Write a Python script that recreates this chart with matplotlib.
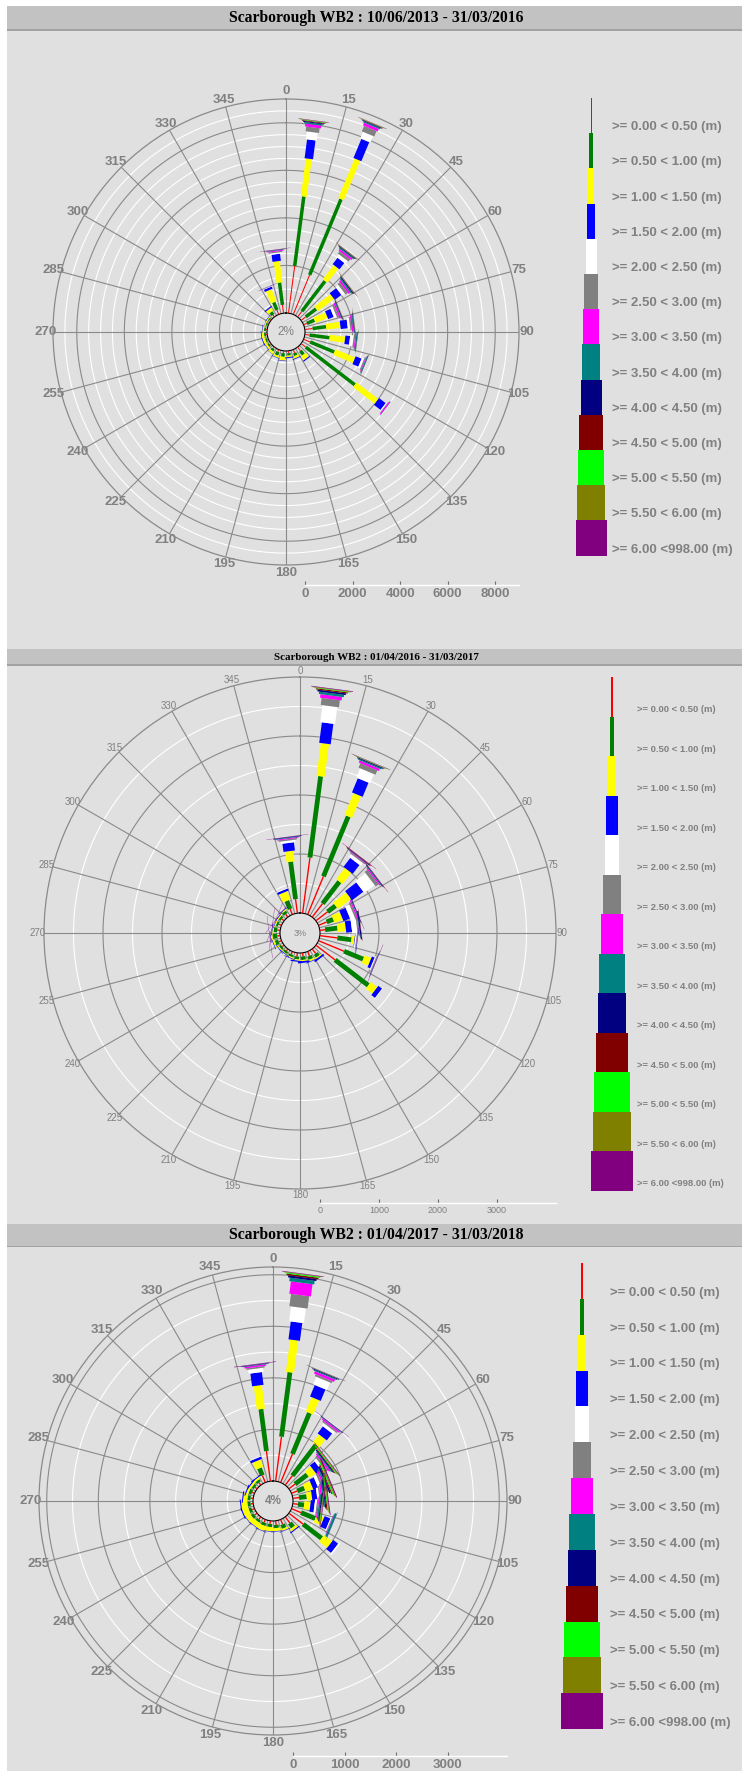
import numpy as np
import matplotlib
matplotlib.use("Agg")
import matplotlib.pyplot as plt
from matplotlib.patches import Rectangle

# ---------------- data ----------------
directions = [7.5, 22.5, 37.5, 52.5, 67.5, 82.5, 97.5, 112.5, 127.5, 142.5, 157.5, 172.5,
              187.5, 202.5, 217.5, 232.5, 247.5, 262.5, 277.5, 292.5, 307.5, 322.5, 337.5, 352.5]

class_labels = [">= 0.00 < 0.50 (m)", ">= 0.50 < 1.00 (m)", ">= 1.00 < 1.50 (m)",
                ">= 1.50 < 2.00 (m)", ">= 2.00 < 2.50 (m)", ">= 2.50 < 3.00 (m)",
                ">= 3.00 < 3.50 (m)", ">= 3.50 < 4.00 (m)", ">= 4.00 < 4.50 (m)",
                ">= 4.50 < 5.00 (m)", ">= 5.00 < 5.50 (m)", ">= 5.50 < 6.00 (m)",
                ">= 6.00 <998.00 (m)"]
class_colors = ["#ff0000", "#008000", "#ffff00", "#0000ff", "#ffffff", "#808080", "#ff00ff",
                "#008080", "#000080", "#800000", "#00ff00", "#808000", "#800080"]
angle_labels = ["0", "15", "30", "45", "60", "75", "90", "105", "120", "135", "150", "165",
                "180", "195", "210", "225", "240", "255", "270", "285", "300", "315", "330", "345"]

titles = ["Scarborough WB2 : 10/06/2013 - 31/03/2016",
          "Scarborough WB2 : 01/04/2016 - 31/03/2017",
          "Scarborough WB2 : 01/04/2017 - 31/03/2018"]
calm_labels = ["2%", "3%", "4%"]
axis_ticks_1 = [0, 2000, 4000, 6000, 8000]
axis_ticks_2 = [0, 1000, 2000, 3000]
axis_ticks_3 = [0, 1000, 2000, 3000]

# counts per direction (rows follow `directions`), columns follow the height classes
p1_counts = [
    [2000, 2950, 1600, 800, 330, 200, 120, 60, 40, 30, 20, 15, 15],
    [1800, 3450, 1800, 870, 300, 250, 120, 50, 30, 20, 10, 10, 10],
    [300, 1600, 760, 340, 150, 120, 80, 50, 30, 20, 10, 10, 10],
    [250, 550, 850, 350, 150, 120, 80, 60, 40, 20, 10, 10, 10],
    [150, 350, 550, 250, 120, 80, 70, 30, 25, 10, 5, 5, 5],
    [330, 570, 600, 300, 100, 60, 60, 40, 20, 10, 5, 5, 5],
    [200, 850, 650, 200, 150, 60, 40, 50, 10, 5, 5],
    [300, 1100, 900, 270, 100, 40, 30, 40, 10, 5],
    [250, 2600, 1150, 350, 50, 30, 50, 10],
    [200, 200, 200, 50, 10],
    [150, 120, 100, 30],
    [100, 100, 60, 40],
    [100, 150, 150, 20],
    [100, 150, 80, 20],
    [80, 100, 100, 10],
    [60, 80, 80, 20],
    [50, 80, 100, 30],
    [50, 80, 100, 30, 10],
    [50, 80, 60, 20],
    [50, 60, 40, 10],
    [50, 60, 40, 20],
    [100, 150, 150, 50],
    [200, 350, 550, 100, 20, 10, 10, 5, 5],
    [350, 950, 900, 300, 60, 50, 40, 20, 10, 5, 0, 0, 10],
]
p2_counts = [
    [950, 1390, 560, 350, 290, 120, 60, 40, 30, 20, 10, 10, 10],
    [700, 1100, 400, 260, 170, 80, 40, 20, 15, 5, 5, 5, 5],
    [290, 470, 240, 190, 60, 20, 10, 5, 10, 10, 0, 0, 5],
    [250, 170, 280, 240, 220, 60, 20, 10, 10, 5, 0, 0, 5],
    [150, 120, 150, 120, 80, 30, 20, 10, 10, 0, 0, 0, 5],
    [90, 210, 140, 100, 90, 20, 10, 10, 20, 5],
    [300, 240, 50, 10, 20, 10, 5, 5, 5],
    [470, 350, 120, 50, 20, 10, 5, 5, 5, 0, 0, 0, 5],
    [410, 710, 140, 80, 10],
    [100, 60, 20, 30],
    [80, 60, 30, 10],
    [60, 60, 20, 30],
    [60, 50, 20, 20],
    [50, 40, 20, 10],
    [40, 40, 10, 10],
    [40, 40, 20, 10],
    [50, 60, 30, 10],
    [50, 80, 30, 10, 5, 0, 0, 0, 0, 0, 0, 0, 5],
    [50, 60, 20, 10, 0, 0, 0, 0, 0, 0, 0, 0, 5],
    [50, 40, 20, 10, 5, 0, 0, 0, 0, 0, 0, 0, 5],
    [50, 40, 20, 10, 0, 0, 0, 0, 0, 0, 0, 0, 5],
    [60, 50, 20, 10],
    [100, 150, 150, 40, 10],
    [240, 640, 180, 140, 40, 25, 15, 10, 10, 0, 0, 0, 5],
]
p3_counts = [
    [870, 1260, 630, 350, 290, 240, 240, 70, 40, 30, 20, 10, 10],
    [600, 860, 300, 240, 160, 40, 50, 20, 15, 5, 5, 0, 5],
    [230, 750, 200, 170, 60, 30, 30, 10, 10, 0, 0, 0, 5],
    [150, 300, 150, 120, 60, 40, 30, 20, 20, 15, 15, 15, 10],
    [120, 150, 150, 100, 60, 40, 30, 30, 30, 20, 20, 20, 20],
    [120, 150, 100, 100, 40, 30, 30, 30, 20, 20, 15, 15, 15],
    [100, 120, 120, 80, 40, 20, 20, 30, 20, 10, 10, 10, 10],
    [200, 300, 150, 120, 20, 10, 10, 40, 5],
    [350, 450, 200, 120, 30],
    [150, 100, 50, 20],
    [100, 80, 40, 10],
    [80, 60, 60, 10],
    [60, 60, 80, 10],
    [60, 60, 100, 10],
    [60, 50, 100, 10],
    [60, 60, 100, 10],
    [50, 60, 120, 20],
    [50, 60, 120, 20],
    [50, 60, 80, 20],
    [50, 60, 40, 20],
    [50, 50, 40, 20],
    [60, 50, 40, 20],
    [150, 150, 150, 50, 10],
    [590, 820, 460, 250, 80, 30, 30, 10, 10, 0, 0, 0, 10],
]

# ---------------- layout ----------------
W, H = 747, 1771
fig = plt.figure(figsize=(W / 100, H / 100), dpi=100)
fig.patch.set_facecolor("white")

GREY_TXT = "#808080"
SANS = ["Liberation Sans", "DejaVu Sans"]
SERIF = ["Liberation Serif", "DejaVu Serif"]
base_widths = [1, 3.5, 6, 8.5, 11, 13.5, 16, 18.5, 21, 23.5, 26, 28.5, 31]  # px (legend taper)


def fx(x):
    return x / W


def fy(y):
    return 1 - y / H


def frect(x0, y0, x1, y1, **kw):
    fig.add_artist(Rectangle((fx(x0), fy(y1)), (x1 - x0) / W, (y1 - y0) / H,
                             transform=fig.transFigure, **kw))


# panel background
frect(7, 6, 742, 1771, facecolor="#e0e0e0", edgecolor="none", zorder=-20)


def title_bar(y0, y1, text, fs, ty):
    frect(7, y0, 742, y1, facecolor="#c2c2c2", edgecolor="none", zorder=-10)
    frect(7, y1 - 1.5, 742, y1, facecolor="#a2a2a2", edgecolor="none", zorder=-9)
    fig.text(fx(376), fy(ty), text, ha="center", va="center", fontsize=fs,
             fontweight="bold", family=SERIF, color="black")


def panel(counts, cx, cy, R, hole, rmax, major, wscale, lab_fs, lab_w, lab_pad,
          calm, calm_fs, calm_w, axis_y, ticks, tick_fs, tick_w,
          leg_cx, leg_top, leg_h, leg_tx, leg_fs, leg_w):
    ax = fig.add_axes([fx(cx - R), fy(cy + R), 2 * R / W, 2 * R / H], projection="polar")
    ax.set_facecolor("none")
    ax.set_theta_zero_location("N")
    ax.set_theta_direction(-1)
    origin = hole * rmax / (R - hole)
    ax.set_rlim(0, rmax)
    ax.set_rorigin(-origin)
    ax.set_yticks([])
    ax.yaxis.grid(False)
    ax.set_thetagrids(np.arange(0, 360, 15), labels=angle_labels, fontsize=lab_fs,
                      color=GREY_TXT, fontweight=lab_w, family=SANS)
    ax.xaxis.grid(True, color="#8a8a8a", lw=0.8)
    ax.tick_params(axis="x", pad=lab_pad, length=0)
    ax.spines["polar"].set_color("#8a8a8a")
    ax.spines["polar"].set_linewidth(0.9)
    ax.spines["inner"].set_visible(False)
    # rings: dark at major steps, white at the half steps
    tt = np.linspace(0, 2 * np.pi, 721)
    r = 500
    while r < rmax - 1:
        dark = (r % major) == 0
        ax.plot(tt, np.full_like(tt, r), color="#8a8a8a" if dark else "white",
                lw=0.8, zorder=1)
        r += 500
    # stacked, tapered bars
    for th, row in zip(directions, counts):
        base = 0.0
        t = np.radians(th)
        for i, v in enumerate(row):
            if v > 0:
                ax.plot([t, t], [base, base + v], color=class_colors[i],
                        lw=base_widths[i] * wscale * 0.72, solid_capstyle="butt",
                        zorder=3 + i)
            base += v
    ax.text(0.5, 0.5, calm, transform=ax.transAxes, ha="center", va="center",
            fontsize=calm_fs, color=GREY_TXT, fontweight=calm_w, family=SANS, zorder=20)

    # radial count axis underneath
    axr = fig.add_axes([fx(cx + hole), fy(axis_y), (R - hole) / W, 0.0001])
    axr.set_facecolor("none")
    axr.set_xlim(0, rmax)
    axr.set_yticks([])
    for s in ["left", "right", "top"]:
        axr.spines[s].set_visible(False)
    axr.spines["bottom"].set_color("white")
    axr.spines["bottom"].set_linewidth(1.0)
    axr.set_xticks(ticks)
    axr.set_xticklabels([str(v) for v in ticks], fontsize=tick_fs, color=GREY_TXT,
                        fontweight=tick_w, family=SANS)
    axr.tick_params(axis="x", direction="in", length=3, width=0.8, color="#707070", pad=2.5)

    # tapered legend
    n = len(class_labels)
    half = 30
    axl = fig.add_axes([fx(leg_cx - half), fy(leg_top + n * leg_h), 2 * half / W, n * leg_h / H])
    axl.set_xlim(-half, half)
    axl.set_ylim(n * leg_h, 0)
    axl.axis("off")
    for i in range(n):
        axl.bar(0, leg_h, bottom=i * leg_h, width=base_widths[i] * wscale,
                color=class_colors[i], linewidth=0)
        fig.text(fx(leg_tx), fy(leg_top + (i + 1) * leg_h - leg_h * 0.17), class_labels[i],
                 ha="left", va="center", fontsize=leg_fs, color=GREY_TXT,
                 fontweight=leg_w, family=SANS)


# panel 1
title_bar(6, 31, titles[0], 11.3, 18.5)
panel(p1_counts, 286, 332, 233, 19, 9000, 2000, 1.0, 9.5, "bold", -1.5,
      calm_labels[0], 8.5, "normal", 585, axis_ticks_1, 9.5, "bold",
      591, 98, 35.2, 612, 9.5, "bold")

# panel 2
title_bar(649, 666, titles[1], 7.9, 657)
panel(p2_counts, 300, 933, 256, 20, 4000, 1000, 1.36, 7, "normal", -2.5,
      calm_labels[1], 6.5, "normal", 1203, axis_ticks_2, 6.5, "normal",
      612, 677, 39.5, 637, 6.8, "bold")

# panel 3
title_bar(1224, 1247, titles[2], 11.3, 1235)
panel(p3_counts, 273, 1501, 234, 20, 4150, 1000, 1.36, 9.5, "bold", -1.0,
      calm_labels[2], 8.5, "bold", 1756, axis_ticks_3, 9.5, "bold",
      582, 1263, 35.85, 610, 9.5, "bold")

fig.savefig("out.png", dpi=100, facecolor=fig.get_facecolor())
